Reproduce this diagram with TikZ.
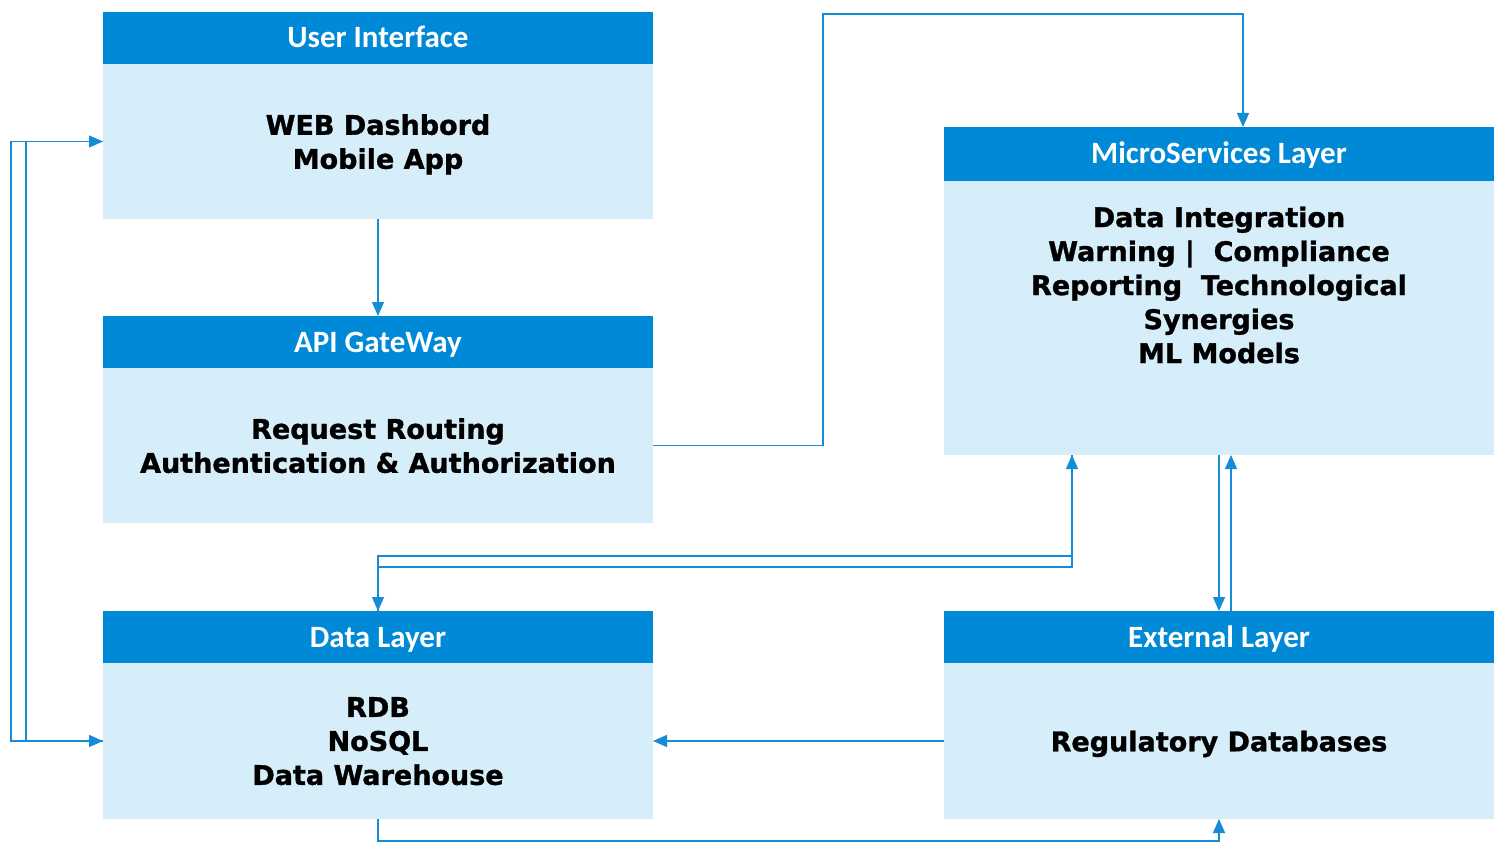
\documentclass[tikz,border=0pt]{standalone}
\usepackage{fontspec}
\setmainfont{Liberation Sans}
\newfontfamily\hdrfont{Carlito}
\newfontfamily\bodyfont{DejaVu Sans}[BoldFeatures={FakeBold=1.2}]
\usetikzlibrary{arrows.meta}
\definecolor{hdrcol}{RGB}{0,137,214}
\definecolor{bodycol}{RGB}{214,238,249}
\definecolor{conncol}{RGB}{20,140,215}
\begin{document}
\begin{tikzpicture}[x=1pt,y=-1pt,
  hdrbox/.style={fill=hdrcol,minimum width=550pt,minimum height=52pt,inner sep=0pt,outer sep=0pt,anchor=north west,text=white,text height=20pt,text depth=0pt,font=\hdrfont\bfseries\fontsize{31}{34}\selectfont},
  bodybox/.style={fill=bodycol,minimum width=550pt,inner sep=0pt,outer sep=0pt,anchor=north west,align=center,text depth=0pt,font=\bodyfont\bfseries\fontsize{27}{34}\selectfont},
  bodytext/.style={inner sep=0pt,align=center,font=\bodyfont\bfseries\fontsize{27}{34}\selectfont},
  link/.style={draw=conncol,line width=1.3pt,-{Triangle[length=14pt,width=12pt]}},
]
\useasboundingbox[fill=white] (0,0) rectangle (1506,853);
% User Interface
\node[hdrbox] (uih) at (103,12) {User Interface};
\node[bodybox,minimum height=155pt] (ui) at (103,64) {WEB Dashbord\\Mobile App};
% API Gateway
\node[hdrbox] (apih) at (103,316) {API GateWay};
\node[bodybox,minimum height=155pt] (api) at (103,368) {Request Routing\\Authentication \& Authorization};
% Data Layer
\node[hdrbox] (datah) at (103,611) {Data Layer};
\node[bodybox,minimum height=156pt] (data) at (103,663) {RDB\\NoSQL\\Data Warehouse};
% MicroServices
\node[hdrbox,minimum height=54pt] (mich) at (944,127) {MicroServices Layer};
\node[bodybox,minimum height=274pt] (mic) at (944,181) {};
\node[bodytext] (mictxt) at (1219,285) {Data Integration\\Warning |~~Compliance\\Reporting~~Technological\\Synergies\\ML Models};
% External
\node[hdrbox] (exth) at (944,611) {External Layer};
\node[bodybox,minimum height=156pt] (ext) at (944,663) {Regulatory Databases};

% connectors
\coordinate (c1) at (823,14);
\coordinate (m1) at (1072,556);
\coordinate (m2) at (378,556);
\coordinate (m3) at (378,567);
\coordinate (m4) at (1072,567);
\coordinate (b1) at (378,841);
\coordinate (l1) at (11,0);
\coordinate (l2) at (26,0);

\draw[link] (ui.south) -- (apih.north);
\draw[link] (api.east) -| (c1) -| ([xshift=24pt]mich.north);
\draw[link] (mic.south -| m1) -- (m1) -- (m2) -- (datah.north);
\draw[link] (datah.north) -- (m3) -- (m4) -- (mic.south -| m4);
\draw[link] (mic.south) -- (exth.north);
\draw[link] ([xshift=12pt]exth.north) -- ([xshift=12pt]mic.south);
\draw[link] (ext.west) -- (data.east);
\draw[link] (data.south) -- (b1) -| (ext.south);
\draw[link] (data.west) -- (data.west -| l1) -- (ui.west -| l1) -- (ui.west);
\draw[link] (ui.west) -- (ui.west -| l2) -- (data.west -| l2) -- (data.west);
\end{tikzpicture}
\end{document}
